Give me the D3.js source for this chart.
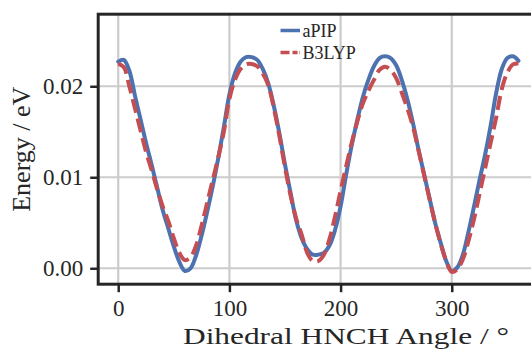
<!DOCTYPE html>
<html>
<head>
<meta charset="utf-8">
<script src="https://cdn.jsdelivr.net/npm/d3@7"></script>
<style>
  html, body { margin: 0; padding: 0; background: #ffffff; }
  svg { display: block; }
  text { font-family: "Liberation Serif", "DejaVu Serif", serif; fill: #262626; }
</style>
</head>
<body>
<svg id="chart" width="531" height="349"></svg>
<script>
// ---- data ----
const angles = [0,5,10,15,20,25,30,35,40,45,50,55,60,65,70,75,80,85,90,95,100,105,110,115,120,
  125,130,135,140,145,150,155,160,165,170,175,180,185,190,195,200,205,210,215,220,225,230,235,240,
  245,250,255,260,265,270,275,280,285,290,295,300,305,310,315,320,325,330,335,340,345,350,355,360];

const aPIP = [0.0227,0.0229,0.0217,0.0190,0.0164,0.0138,0.0114,0.0089,0.0064,0.0044,0.0024,0.0007,-0.0003,
  0.0000,0.0014,0.0036,0.0062,0.0090,0.0121,0.0155,0.0191,0.0214,0.0227,0.0232,0.0232,
  0.0229,0.0219,0.0203,0.0178,0.0148,0.0114,0.0083,0.0053,0.0033,0.0021,0.0015,0.0015,
  0.0017,0.0025,0.0042,0.0068,0.0103,0.0135,0.0163,0.0188,0.0207,0.0222,0.0231,0.0233,
  0.0231,0.0223,0.0207,0.0186,0.0160,0.0131,0.0104,0.0077,0.0050,0.0028,0.0008,-0.0003,
  0.0001,0.0015,0.0040,0.0068,0.0097,0.0125,0.0157,0.0193,0.0219,0.0231,0.0233,0.0228];

const B3LYP = [0.0225,0.0221,0.0200,0.0176,0.0152,0.0128,0.0108,0.0087,0.0068,0.0052,0.0033,0.0017,0.0009,
  0.0012,0.0025,0.0047,0.0072,0.0097,0.0122,0.0150,0.0186,0.0207,0.0219,0.0224,0.02245,
  0.0222,0.0214,0.0201,0.0176,0.0145,0.0111,0.0080,0.0055,0.0037,0.0017,0.0008,0.0008,
  0.0015,0.0032,0.0057,0.0085,0.0112,0.0138,0.0161,0.0181,0.0195,0.0207,0.0218,0.02215,
  0.0218,0.0209,0.0193,0.0176,0.0156,0.0130,0.0103,0.0076,0.0050,0.0027,0.0008,-0.0004,
  -0.0001,0.0010,0.0030,0.0054,0.0082,0.0110,0.0138,0.0166,0.0197,0.0215,0.0224,0.0225];

const xTicks = [0, 100, 200, 300];
const yTicks = [0.00, 0.01, 0.02];
const seriesNames = ["aPIP", "B3LYP"];
const xLabel = "Dihedral HNCH Angle / °";
const yLabel = "Energy / eV";

// ---- layout ----
const W = 531, H = 349;
const plot = { left: 98.2, top: 14.2, right: 538.5, bottom: 284.2 };
const ink = "#262626", gridCol = "#cccccc";
const colors = ["#4c72b0", "#c44e52"];

const x = d3.scaleLinear().domain([-18, 378]).range([plot.left, plot.right]);
const y = d3.scaleLinear().domain([-0.00175, 0.02792]).range([plot.bottom, plot.top]);

const svg = d3.select("#chart");

// grid
const g = svg.append("g");
g.selectAll("line.gx").data(xTicks).join("line")
  .attr("x1", d => x(d)).attr("x2", d => x(d))
  .attr("y1", plot.top).attr("y2", plot.bottom)
  .attr("stroke", gridCol).attr("stroke-width", 2.2);
g.selectAll("line.gy").data(yTicks).join("line")
  .attr("y1", d => y(d)).attr("y2", d => y(d))
  .attr("x1", plot.left).attr("x2", plot.right)
  .attr("stroke", gridCol).attr("stroke-width", 2.2);

// axes (ticks + labels) via d3 axes
const xAxis = d3.axisBottom(x).tickValues(xTicks).tickFormat(d3.format("d")).tickSize(8).tickPadding(7);
const yAxis = d3.axisLeft(y).tickValues(yTicks).tickFormat(d3.format(".2f")).tickSize(8).tickPadding(7);

const gx = svg.append("g").attr("transform", `translate(0,${plot.bottom})`).call(xAxis);
const gy = svg.append("g").attr("transform", `translate(${plot.left},0)`).call(yAxis);
[gx, gy].forEach(a => {
  a.select(".domain").remove();
  a.selectAll(".tick line").attr("stroke", ink).attr("stroke-width", 2.5);
  a.selectAll(".tick text").attr("fill", ink)
    .style("font-family", '"Liberation Serif", serif').style("font-size", "23px");
});

// lines
const line = d3.line().x(d => x(d[0])).y(d => y(d[1])).curve(d3.curveCatmullRom.alpha(0.5));
const seriesData = [aPIP, B3LYP].map(vals => angles.map((a, i) => [a, vals[i]]));
svg.append("path").datum(seriesData[0]).attr("d", line)
  .attr("fill", "none").attr("stroke", colors[0]).attr("stroke-width", 4)
  .attr("stroke-linejoin", "round").attr("stroke-linecap", "round");
svg.append("path").datum(seriesData[1]).attr("d", line)
  .attr("fill", "none").attr("stroke", colors[1]).attr("stroke-width", 4)
  .attr("stroke-dasharray", "14,6");

// spines
svg.append("rect").attr("x", plot.left).attr("y", plot.top)
  .attr("width", plot.right - plot.left).attr("height", plot.bottom - plot.top)
  .attr("fill", "none").attr("stroke", ink).attr("stroke-width", 3);

// axis labels
svg.append("text").attr("x", 183).attr("y", 344)
  .attr("textLength", 326).attr("lengthAdjust", "spacingAndGlyphs")
  .style("font-size", "24px").text(xLabel);
svg.append("text")
  .attr("transform", `translate(30,${(plot.top + plot.bottom) / 2}) rotate(-90)`)
  .attr("text-anchor", "middle").style("font-size", "26px").text(yLabel);

// legend
const leg = svg.append("g");
const legY = [30.5, 52.5];
seriesNames.forEach((name, i) => {
  leg.append("line").attr("x1", 280.5).attr("x2", 300).attr("y1", legY[i]).attr("y2", legY[i])
    .attr("stroke", colors[i]).attr("stroke-width", 3.5)
    .attr("stroke-dasharray", i === 1 ? "9,3,5,2,1.5,3" : null);
  leg.append("text").attr("x", 302.5).attr("y", legY[i] + 6)
    .style("font-size", "18px").text(name);
});
</script>
</body>
</html>
